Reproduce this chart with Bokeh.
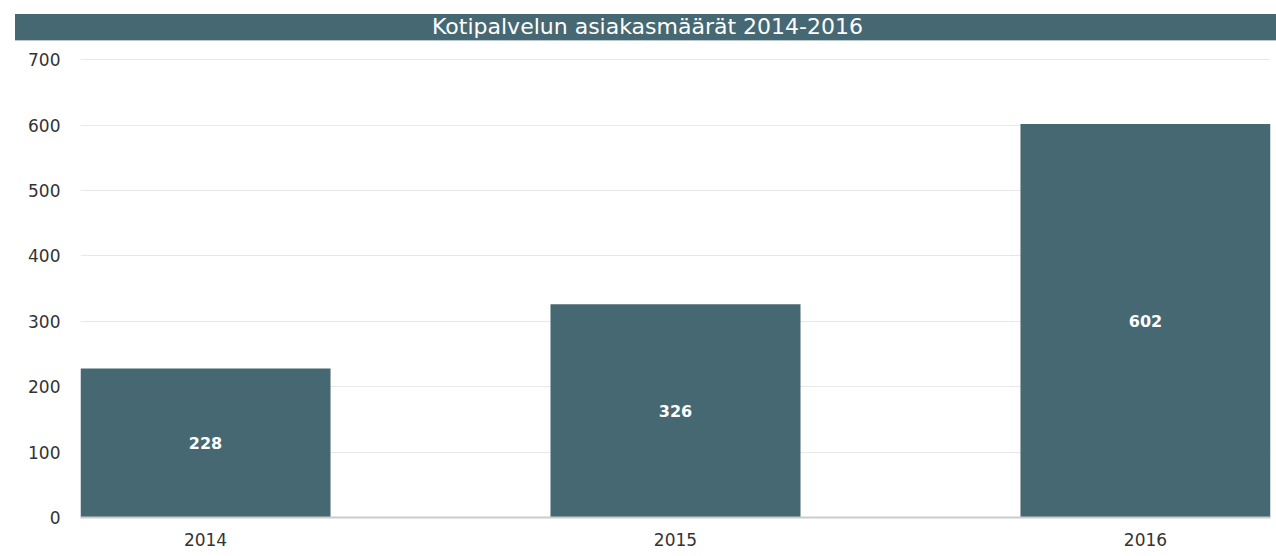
from bokeh.plotting import figure
from bokeh.models import ColumnDataSource, Range1d, FixedTicker, Div
from bokeh.layouts import column
from bokeh.embed import file_html
from bokeh.resources import INLINE
from bokeh.core.properties import value

# ---- data ----
title_text = "Kotipalvelun asiakasmäärät 2014-2016"
years = ["2014", "2015", "2016"]
counts = [228, 326, 602]
y_ticks = [0, 100, 200, 300, 400, 500, 600, 700]

# ---- style ----
BAR = "#466873"
FONT = "DejaVu Sans"
bar_w = 0.532

xs = list(range(len(years)))
src = ColumnDataSource(dict(
    x=xs,
    top=counts,
    mid=[c / 2 for c in counts],
    lab=[str(c) for c in counts],
))

title = Div(text=title_text, width=1261, height=26, margin=(14, 0, 0, 15),
            styles={"background-color": BAR, "color": "white", "font-family": FONT,
                    "font-size": "22px", "text-align": "center", "line-height": "26px",
                    "box-shadow": "0 1px 0 #a3b6bd", "white-space": "nowrap",
                    "padding-left": "4px"})

p = figure(width=1276, height=516, output_backend="svg", toolbar_location=None,
           x_range=Range1d(-bar_w / 2, len(years) - 1 + bar_w / 2),
           y_range=Range1d(0, y_ticks[-1] + 2),
           min_border_left=80, min_border_right=6, min_border_top=18, min_border_bottom=39,
           margin=(0, 0, 0, 0))
p.outline_line_color = None
p.background_fill_color = "white"
p.border_fill_color = "white"

p.vbar(x="x", top="top", bottom=0, width=bar_w, source=src,
       fill_color=BAR, line_color=None)
p.text(x="x", y="mid", text="lab", source=src, text_align="center", text_baseline="middle",
       text_color="white", text_font=value(FONT), text_font_style="bold", text_font_size="16px")

# axes
xa = p.xaxis[0]
xa.ticker = FixedTicker(ticks=xs)
xa.major_label_overrides = {i: y for i, y in zip(xs, years)}
xa.axis_line_color = "#cccccc"
xa.axis_line_width = 2
xa.major_tick_line_color = None
xa.minor_tick_line_color = None
xa.major_tick_out = 0
xa.major_tick_in = 0
xa.major_label_standoff = 15
xa.major_label_text_font = FONT
xa.major_label_text_font_size = "17px"
xa.major_label_text_color = "#333333"

ya = p.yaxis[0]
ya.ticker = FixedTicker(ticks=y_ticks)
ya.axis_line_color = None
ya.major_tick_line_color = None
ya.minor_tick_line_color = None
ya.major_tick_out = 0
ya.major_tick_in = 0
ya.major_label_standoff = 20
ya.major_label_text_font = FONT
ya.major_label_text_font_size = "17px"
ya.major_label_text_color = "#333333"

p.xgrid.grid_line_color = None
p.ygrid.grid_line_color = "#e8e8e8"
p.ygrid.grid_line_width = 1

layout = column(title, p, spacing=0)
open("out.html", "w").write(file_html(layout, INLINE))
